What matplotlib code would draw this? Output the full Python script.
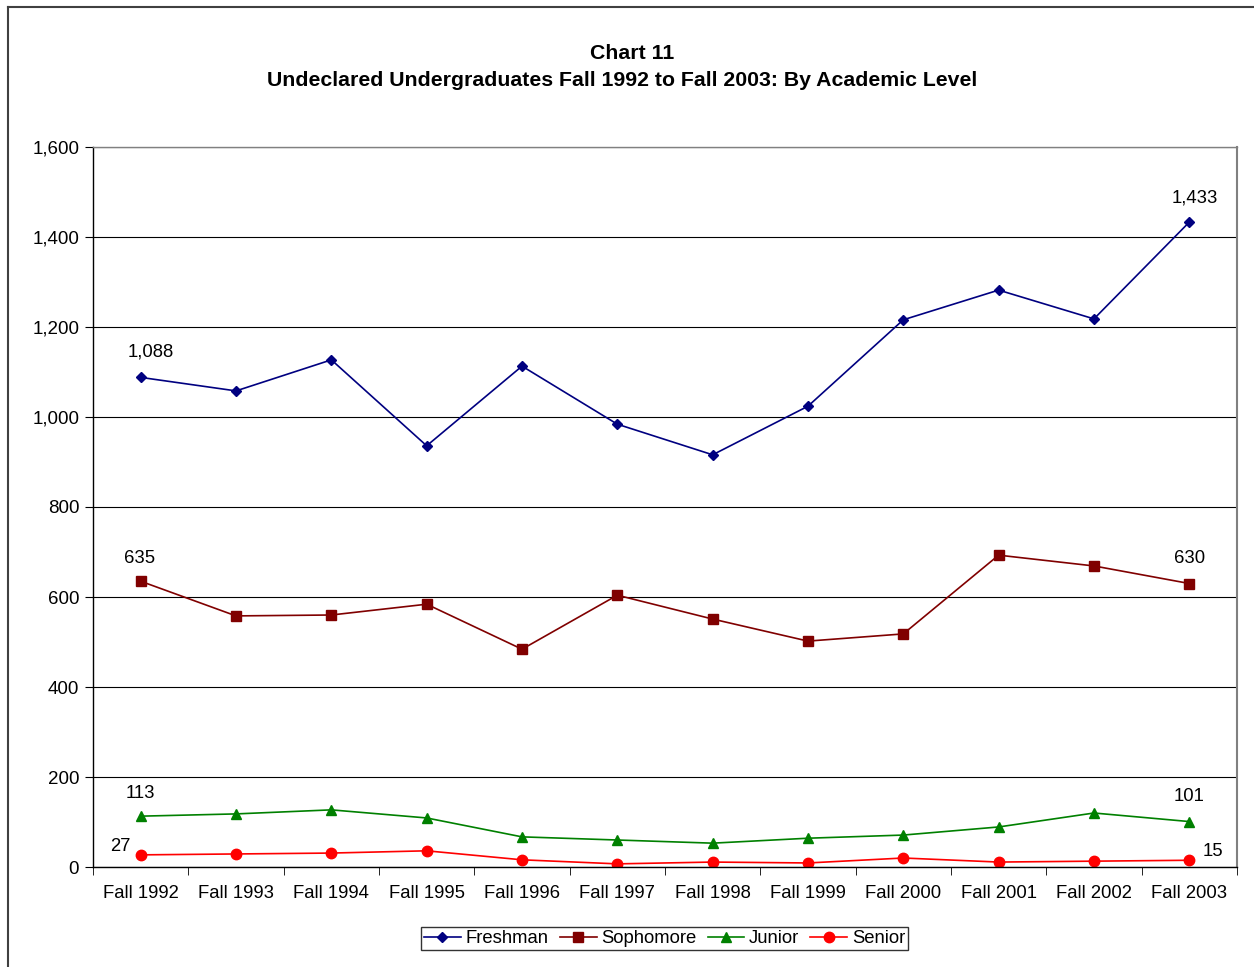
import matplotlib.pyplot as plt
from matplotlib.lines import Line2D
from matplotlib.ticker import FuncFormatter, MultipleLocator, FixedLocator

years = ['Fall 1992', 'Fall 1993', 'Fall 1994', 'Fall 1995', 'Fall 1996', 'Fall 1997',
         'Fall 1998', 'Fall 1999', 'Fall 2000', 'Fall 2001', 'Fall 2002', 'Fall 2003']
freshman = [1088, 1058, 1127, 936, 1113, 984, 916, 1024, 1216, 1282, 1218, 1433]
sophomore = [635, 558, 560, 584, 484, 604, 551, 502, 518, 693, 669, 630]
junior = [113, 118, 127, 109, 67, 60, 53, 64, 71, 89, 120, 101]
senior = [27, 29, 31, 36, 16, 7, 11, 9, 20, 11, 13, 15]

plt.rcParams['font.family'] = ['Liberation Sans', 'DejaVu Sans']

fig = plt.figure(figsize=(12.54, 9.67), dpi=100)
ax = fig.add_axes([0.0742, 0.1034, 0.9122, 0.7446])

x = list(range(len(years)))
ax.plot(x, freshman, color='#000080', marker='D', markersize=5, lw=1.2, label='Freshman')
ax.plot(x, sophomore, color='#800000', marker='s', markersize=6.5, lw=1.2, label='Sophomore')
ax.plot(x, junior, color='#008000', marker='^', markersize=7.5, lw=1.2, label='Junior')
ax.plot(x, senior, color='#ff0000', marker='o', markersize=7.5, lw=1.2, label='Senior')

# end labels
fmt = lambda v: f'{v:,}'
fs = 13.3
ax.annotate(fmt(freshman[0]), (0, freshman[0]), xytext=(7, 15), textcoords='offset points', ha='center', fontsize=fs)
ax.annotate(fmt(freshman[-1]), (11, freshman[-1]), xytext=(4, 14), textcoords='offset points', ha='center', fontsize=fs)
ax.annotate(fmt(sophomore[0]), (0, sophomore[0]), xytext=(-1, 13), textcoords='offset points', ha='center', fontsize=fs)
ax.annotate(fmt(sophomore[-1]), (11, sophomore[-1]), xytext=(0, 15), textcoords='offset points', ha='center', fontsize=fs)
ax.annotate(fmt(junior[0]), (0, junior[0]), xytext=(0, 13), textcoords='offset points', ha='center', fontsize=fs)
ax.annotate(fmt(junior[-1]), (11, junior[-1]), xytext=(0, 15), textcoords='offset points', ha='center', fontsize=fs)
ax.annotate(fmt(senior[0]), (0, senior[0]), xytext=(-15, 3), textcoords='offset points', ha='center', fontsize=fs)
ax.annotate(fmt(senior[-1]), (11, senior[-1]), xytext=(17, 3), textcoords='offset points', ha='center', fontsize=fs)

ax.set_xlim(-0.5, 11.5)
ax.set_ylim(0, 1600)
ax.yaxis.set_major_locator(MultipleLocator(200))
ax.yaxis.set_major_formatter(FuncFormatter(lambda v, p: f'{int(v):,}'))
ax.grid(axis='y', color='black', lw=0.8)
ax.set_axisbelow(True)

ax.set_xticks(x)
ax.set_xticklabels(years)
ax.xaxis.set_minor_locator(FixedLocator([i - 0.5 for i in range(13)]))
ax.tick_params(axis='x', which='major', length=0, pad=13, labelsize=13.3)
ax.tick_params(axis='x', which='minor', length=6, direction='out', color='black')
ax.tick_params(axis='y', length=6, direction='out', labelsize=13.5, pad=4)

for s in ['left', 'bottom']:
    ax.spines[s].set_color('black')
    ax.spines[s].set_linewidth(1)
ax.spines['right'].set_color('#808080')
ax.spines['right'].set_linewidth(1.5)
ax.spines['top'].set_color('#808080')
ax.spines['top'].set_linewidth(1)

fig.text(0.504, 0.945, 'Chart 11', ha='center', va='center', fontsize=15.3, fontweight='bold')
fig.text(0.496, 0.917, 'Undeclared Undergraduates Fall 1992 to Fall 2003: By Academic Level',
         ha='center', va='center', fontsize=15.3, fontweight='bold')

leg = fig.legend(loc='center', bbox_to_anchor=(0.530, 0.0295), ncol=4, frameon=True, fancybox=False,
                 edgecolor='black', fontsize=13.3, handlelength=2.0, handletextpad=0.25,
                 columnspacing=0.6, borderpad=0.15, borderaxespad=0)
leg.get_frame().set_linewidth(1)

fig.add_artist(Line2D([8 / 1254, 1.0], [1 - 7 / 967, 1 - 7 / 967], color='#404040', lw=1.5))
fig.add_artist(Line2D([8 / 1254, 8 / 1254], [0, 1 - 7 / 967], color='#404040', lw=1.5))

fig.savefig('out.png', dpi=100)
